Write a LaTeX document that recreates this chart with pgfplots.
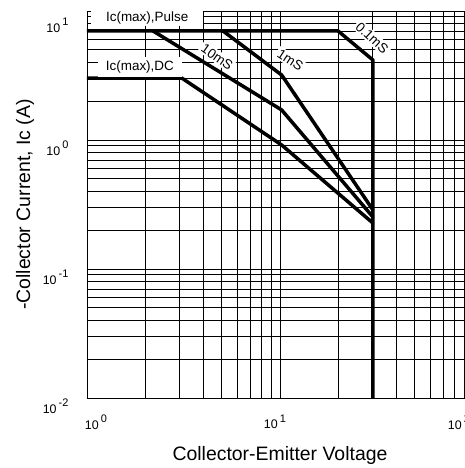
\documentclass[border=0pt]{standalone}
\usepackage{pgfplots}
\pgfplotsset{compat=1.18}
\usepackage{fontspec}
\setmainfont{Liberation Sans}

% tick label in the "10 ^k" style of the datasheet
\newcommand{\tl}[1]{10\raisebox{0.55em}{\,\fontsize{11}{12}\selectfont #1}}

\tikzset{soa/.style={black, line width=3.5bp, line cap=round, line join=round}}

\begin{document}
\begin{tikzpicture}
\begin{loglogaxis}[
    name=ax,
    scale only axis,
    width=386bp, height=387bp,
    xmin=1, xmax=100,
    ymin=0.01, ymax=10,
    xtick={1,10,100},
    xticklabels={\hspace*{18bp}\tl{0}, \tl{1}\hspace*{10bp}, \tl{2}\hspace*{28bp}},
    ytick={0.01,0.1,1,10},
    yticklabels={\tl{-2}, \tl{-1}, \tl{0}, \raisebox{-13bp}[0pt][0pt]{\tl{1}}},
    ticklabel style={font=\fontsize{12.5}{14}\selectfont},
    xticklabel style={yshift=-13bp},
    yticklabel style={xshift=-15bp, yshift=-8bp},
    grid=both,
    major grid style={black, line width=0.85bp},
    minor grid style={black, line width=0.85bp},
    tick style={draw=none},
    axis line style={black, line width=0.9bp},
    xlabel={Collector-Emitter Voltage},
    ylabel={-Collector Current, Ic (A)},
    label style={font=\fontsize{19.5}{22}\selectfont},
    xlabel style={at={([yshift=-57bp]axis description cs:0.5,0)}, anchor=center},
    ylabel style={at={([xshift=-62bp]axis description cs:0,0.5)}, anchor=center},
]

% Ic(max) pulse, 0.1 ms edge and VCEO limit
\addplot[soa] coordinates {(1,7.0) (20,7.0) (30.3,4.17) (30.3,0.01)};
% 1 ms
\addplot[soa] coordinates {(5.07,7.0) (10.2,3.19) (30.3,0.287)};
% 10 ms
\addplot[soa] coordinates {(2.2,7.0) (10.2,1.71) (30.3,0.253)};
% DC
\addplot[soa] coordinates {(1,3.02) (3.1,3.02) (10.2,0.915) (30.3,0.227)};

\begin{scope}[every node/.style={font=\fontsize{13.5}{15}\selectfont, fill=white, inner ysep=1.5bp, inner xsep=2bp}]
\node[inner xsep=15bp] at (axis cs:2.05,8.82) {Ic(max),Pulse};
\node[inner xsep=8bp, inner ysep=4bp] at (axis cs:1.88,3.68) {Ic(max),DC};
\node[rotate=-35] at (axis cs:4.72,4.40) {10mS};
\node[rotate=-33] at (axis cs:11.3,4.17) {1mS};
\node[rotate=-43] at (axis cs:30.0,6.18) {0.1mS};
\end{scope}
\end{loglogaxis}
\pgfresetboundingbox
\path[use as bounding box] ([xshift=-87bp,yshift=-70bp]ax.south west) rectangle ([xshift=-8bp,yshift=11bp]ax.north east);
\end{tikzpicture}
\end{document}
